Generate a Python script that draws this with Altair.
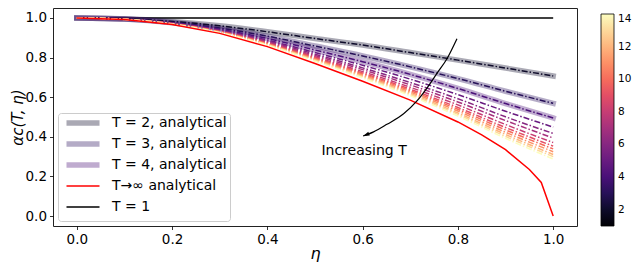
import altair as alt
import pandas as pd

# ---------------- data ----------------
eta = [0.0, 0.1, 0.2, 0.3, 0.4, 0.5, 0.6, 0.7, 0.8, 0.9, 1.0]

alpha_t2 = [1.0, 0.996, 0.982, 0.960, 0.930, 0.896, 0.863, 0.825, 0.787, 0.747, 0.707]
alpha_t3 = [1.0, 0.995, 0.978, 0.949, 0.908, 0.858, 0.808, 0.753, 0.694, 0.630, 0.569]
alpha_t4 = [1.0, 0.994, 0.975, 0.943, 0.896, 0.838, 0.779, 0.715, 0.644, 0.568, 0.495]
alpha_t5 = [1.0, 0.994, 0.974, 0.939, 0.888, 0.825, 0.761, 0.691, 0.613, 0.529, 0.449]
alpha_t6 = [1.0, 0.994, 0.973, 0.936, 0.883, 0.817, 0.748, 0.674, 0.592, 0.501, 0.417]
alpha_t7 = [1.0, 0.993, 0.972, 0.934, 0.879, 0.810, 0.739, 0.662, 0.576, 0.482, 0.394]
alpha_t8 = [1.0, 0.993, 0.971, 0.932, 0.875, 0.804, 0.729, 0.650, 0.561, 0.462, 0.371]
alpha_t9 = [1.0, 0.993, 0.970, 0.931, 0.872, 0.799, 0.722, 0.640, 0.548, 0.447, 0.353]
alpha_t10 = [1.0, 0.993, 0.970, 0.930, 0.870, 0.795, 0.717, 0.633, 0.539, 0.435, 0.339]
alpha_t11 = [1.0, 0.993, 0.970, 0.929, 0.868, 0.791, 0.711, 0.626, 0.530, 0.423, 0.325]
alpha_t12 = [1.0, 0.993, 0.969, 0.927, 0.866, 0.788, 0.706, 0.619, 0.520, 0.412, 0.311]
alpha_t13 = [1.0, 0.993, 0.969, 0.926, 0.864, 0.785, 0.701, 0.613, 0.513, 0.402, 0.300]
alpha_t14 = [1.0, 0.992, 0.968, 0.925, 0.862, 0.781, 0.697, 0.607, 0.505, 0.392, 0.288]

T_values = [2, 3, 4, 5, 6, 7, 8, 9, 10, 11, 12, 13, 14]
finite_curves = [alpha_t2, alpha_t3, alpha_t4, alpha_t5, alpha_t6, alpha_t7, alpha_t8,
                 alpha_t9, alpha_t10, alpha_t11, alpha_t12, alpha_t13, alpha_t14]

eta_inf = [0.0, 0.1, 0.2, 0.3, 0.4, 0.5, 0.6, 0.7, 0.8, 0.85, 0.9, 0.95, 0.975, 1.0]
alpha_inf = [1.0, 0.992, 0.967, 0.922, 0.855, 0.770, 0.680, 0.585, 0.475, 0.410, 0.335, 0.235, 0.170, 0.0]

eta_t1 = [0.0, 1.0]
alpha_t1 = [1.0, 1.0]

legend_labels = ["T = 2, analytical", "T = 3, analytical", "T = 4, analytical", "T→∞ analytical", "T = 1"]
legend_colors = ["#0f0b2c", "#2c115f", "#4b1179", "red", "black"]
band_T = [2, 3, 4]
band_width = 5.5
band_opacity = 0.35

arrow_eta = [0.798, 0.777, 0.756, 0.735, 0.714, 0.686, 0.651, 0.623, 0.601]
arrow_alpha = [0.895, 0.794, 0.720, 0.646, 0.581, 0.516, 0.463, 0.425, 0.404]
note_text = ["Increasing T"]
note_eta = [0.603]
note_alpha = [0.326]

axis_ticks = [0.0, 0.2, 0.4, 0.6, 0.8, 1.0]
colorbar_ticks = [2, 4, 6, 8, 10, 12, 14]

# ---------------- tables ----------------
dash_rows = []
for T, curve in zip(T_values, finite_curves):
    for e, a in zip(eta, curve):
        dash_rows.append({"eta": e, "alpha": a, "T": T})
df_dash = pd.DataFrame(dash_rows)

band_rows = []
for T, lab in zip(band_T, legend_labels[:3]):
    for e, a in zip(eta, finite_curves[T_values.index(T)]):
        band_rows.append({"eta": e, "alpha": a, "label": lab})
df_band = pd.DataFrame(band_rows)

df_inf = pd.DataFrame({"eta": eta_inf, "alpha": alpha_inf})
df_t1 = pd.DataFrame({"eta": eta_t1, "alpha": alpha_t1})
df_arrow = pd.DataFrame({"eta": arrow_eta, "alpha": arrow_alpha, "i": list(range(len(arrow_eta)))})
df_head = df_arrow.tail(1)
df_note = pd.DataFrame({"eta": note_eta, "alpha": note_alpha, "text": note_text})

FONT = "DejaVu Sans"
H = 218
xscale = alt.Scale(domain=[-0.05, 1.05], nice=False, zero=False)
yscale = alt.Scale(domain=[-0.05, 1.05], nice=False, zero=False)

X = alt.X("eta:Q", scale=xscale,
          axis=alt.Axis(title="η", values=axis_ticks, format=".1f", titleFontStyle="italic",
                        titleFontSize=16, titleFontWeight="normal", titleBaseline="alphabetic",
                        titleY=32))
Y = alt.Y("alpha:Q", scale=yscale,
          axis=alt.Axis(title="αc(T, η)", values=axis_ticks, format=".1f", titleFontStyle="italic",
                        titleFontSize=15, titleFontWeight="normal", titlePadding=0))

base_x = alt.X("eta:Q", scale=xscale)
base_y = alt.Y("alpha:Q", scale=yscale)

thin_entries = "indexof(['T→∞ analytical', 'T = 1'], datum.value) >= 0"
legend_sym = alt.Legend(
    title=None, orient="none", legendX=5, legendY=105,
    symbolType={"expr": thin_entries + " ? 'M-1,-5M-1,5M-1,0H21' : 'M-1,0H21'"},
    symbolSize=9, labelOffset=37,
    symbolStrokeWidth={"expr": thin_entries + " ? 1.5 : %s" % band_width},
    symbolOpacity={"expr": thin_entries + " ? 1 : %s" % band_opacity},
    labelFontSize=14, labelFont=FONT, labelColor="black", labelLimit=300,
    rowPadding=-1, padding=3, strokeColor="#cccccc", fillColor="rgba(255,255,255,0.85)",
    cornerRadius=3,
)

black_line = alt.Chart(df_t1).mark_line(color="black", strokeWidth=1.5).encode(x=X, y=Y)

bands = alt.Chart(df_band).mark_line(interpolate="monotone", strokeCap="square",
                                     strokeWidth=band_width, opacity=band_opacity).encode(
    x=base_x, y=base_y,
    color=alt.Color("label:N", scale=alt.Scale(domain=legend_labels, range=legend_colors), legend=legend_sym),
)

dashes = alt.Chart(df_dash).mark_line(interpolate="monotone", strokeWidth=1.5,
                                      strokeDash=[6, 2, 1.5, 2]).encode(
    x=base_x, y=base_y, detail="T:N",
    color=alt.Color("T:Q", scale=alt.Scale(scheme="magma", domain=[1, 14]),
                    legend=alt.Legend(title=None, orient="none", legendX=548, legendY=6,
                                      direction="vertical", gradientLength=H - 6, gradientThickness=13,
                                      values=colorbar_ticks, labelFontSize=10.5, labelFont=FONT,
                                      labelColor="black", labelBaseline="middle", labelOffset=4,
                                      gradientStrokeColor="black", gradientStrokeWidth=0.8,
                                      labelOverlap=False)),
)

red_line = alt.Chart(df_inf).mark_line(color="red", strokeWidth=1.5).encode(x=base_x, y=base_y)

arrow = alt.Chart(df_arrow).mark_line(color="black", strokeWidth=1.2, interpolate="monotone").encode(
    x=base_x, y=base_y, order="i:Q")
head = alt.Chart(df_head).mark_point(shape="M0,0L-0.5,1.6L0.5,1.6Z", filled=True, size=64,
                                     angle=248, color="black", opacity=1).encode(x=base_x, y=base_y)
note = alt.Chart(df_note).mark_text(font=FONT, fontSize=14, align="center", baseline="middle",
                                    color="black").encode(x=base_x, y=base_y, text="text:N")

chart = alt.layer(black_line, bands, dashes, red_line, arrow, head, note).resolve_scale(
    color="independent"
).properties(
    width=524, height=H,
    autosize=alt.AutoSizeParams(type="none"),
    padding={"left": 45, "top": 0, "right": 55, "bottom": 254 - H},
).configure_view(
    stroke="#222222", strokeWidth=1
).configure_axis(
    labelFont=FONT, labelFontSize=13.5, labelColor="black", titleFont=FONT, titleColor="black",
    tickColor="black", tickSize=3.5, tickWidth=0.8, labelPadding=3, grid=False, domain=False,
)

chart.save("out.html", embed_options={"renderer": "svg", "actions": False})
